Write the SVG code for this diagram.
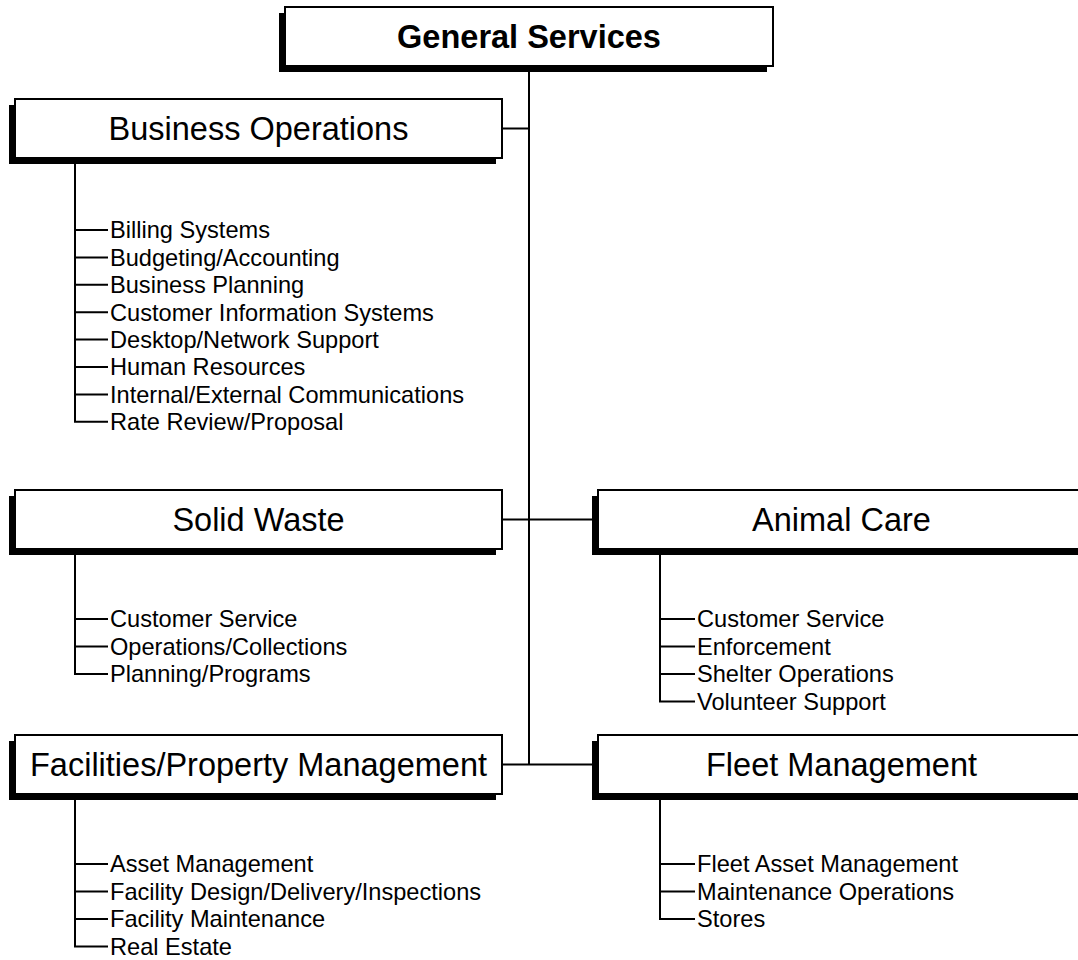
<svg xmlns="http://www.w3.org/2000/svg" width="1078" height="960" viewBox="0 0 1078 960">
<style>
.shadow{fill:#000}
.box{fill:#fff;stroke:#000;stroke-width:2}
.title{font-family:"Liberation Sans",Arial,sans-serif;font-size:32.5px;text-anchor:middle;fill:#000}
.bold{font-weight:bold}
.item{font-family:"Liberation Sans",Arial,sans-serif;font-size:23.6px;fill:#000}
.ln{stroke:#000;stroke-width:2;fill:none}
</style>
<rect width="1078" height="960" fill="#fff"/>
<g id="connectors">
<path class="ln" d="M529 66V764.5"/>
<path class="ln" d="M502 128.5H529"/>
<path class="ln" d="M502 519.5H598"/>
<path class="ln" d="M502 764.5H598"/>
<path class="ln" d="M75 158V421.8H108M75 230H108M75 257.4H108M75 284.8H108M75 312.2H108M75 339.6H108M75 367H108M75 394.4H108"/>
<path class="ln" d="M75 549V674H108M75 619H108M75 646.5H108"/>
<path class="ln" d="M660 549V701.5H695M660 619H695M660 646.5H695M660 674H695"/>
<path class="ln" d="M75 794V946.5H108M75 864H108M75 891.5H108M75 919H108"/>
<path class="ln" d="M660 794V919H695M660 864H695M660 891.5H695"/>
</g>
<g id="general-services">
<rect class="shadow" x="279" y="13" width="488" height="59"/>
<rect class="box" x="285" y="7" width="488" height="59"/>
<text class="title bold" x="529" y="48">General Services</text>
</g>
<g id="business-operations">
<rect class="shadow" x="9" y="105" width="487" height="59"/>
<rect class="box" x="15" y="99" width="487" height="59"/>
<text class="title" x="258.5" y="140">Business Operations</text>
<text class="item" x="110" y="238.4">Billing Systems</text>
<text class="item" x="110" y="265.8">Budgeting/Accounting</text>
<text class="item" x="110" y="293.2">Business Planning</text>
<text class="item" x="110" y="320.6">Customer Information Systems</text>
<text class="item" x="110" y="348">Desktop/Network Support</text>
<text class="item" x="110" y="375.4">Human Resources</text>
<text class="item" x="110" y="402.8">Internal/External Communications</text>
<text class="item" x="110" y="430.2">Rate Review/Proposal</text>
</g>
<g id="solid-waste">
<rect class="shadow" x="9" y="496" width="487" height="59"/>
<rect class="box" x="15" y="490" width="487" height="59"/>
<text class="title" x="258.5" y="531">Solid Waste</text>
<text class="item" x="110" y="627.4">Customer Service</text>
<text class="item" x="110" y="654.9">Operations/Collections</text>
<text class="item" x="110" y="682.4">Planning/Programs</text>
</g>
<g id="animal-care">
<rect class="shadow" x="592" y="496" width="487" height="59"/>
<rect class="box" x="598" y="490" width="487" height="59"/>
<text class="title" x="841.5" y="531">Animal Care</text>
<text class="item" x="697" y="627.4">Customer Service</text>
<text class="item" x="697" y="654.9">Enforcement</text>
<text class="item" x="697" y="682.4">Shelter Operations</text>
<text class="item" x="697" y="709.9">Volunteer Support</text>
</g>
<g id="facilities-property-management">
<rect class="shadow" x="9" y="741" width="487" height="59"/>
<rect class="box" x="15" y="735" width="487" height="59"/>
<text class="title" x="258.5" y="776">Facilities/Property Management</text>
<text class="item" x="110" y="872.4">Asset Management</text>
<text class="item" x="110" y="899.9">Facility Design/Delivery/Inspections</text>
<text class="item" x="110" y="927.4">Facility Maintenance</text>
<text class="item" x="110" y="954.9">Real Estate</text>
</g>
<g id="fleet-management">
<rect class="shadow" x="592" y="741" width="487" height="59"/>
<rect class="box" x="598" y="735" width="487" height="59"/>
<text class="title" x="841.5" y="776">Fleet Management</text>
<text class="item" x="697" y="872.4">Fleet Asset Management</text>
<text class="item" x="697" y="899.9">Maintenance Operations</text>
<text class="item" x="697" y="927.4">Stores</text>
</g>
</svg>
